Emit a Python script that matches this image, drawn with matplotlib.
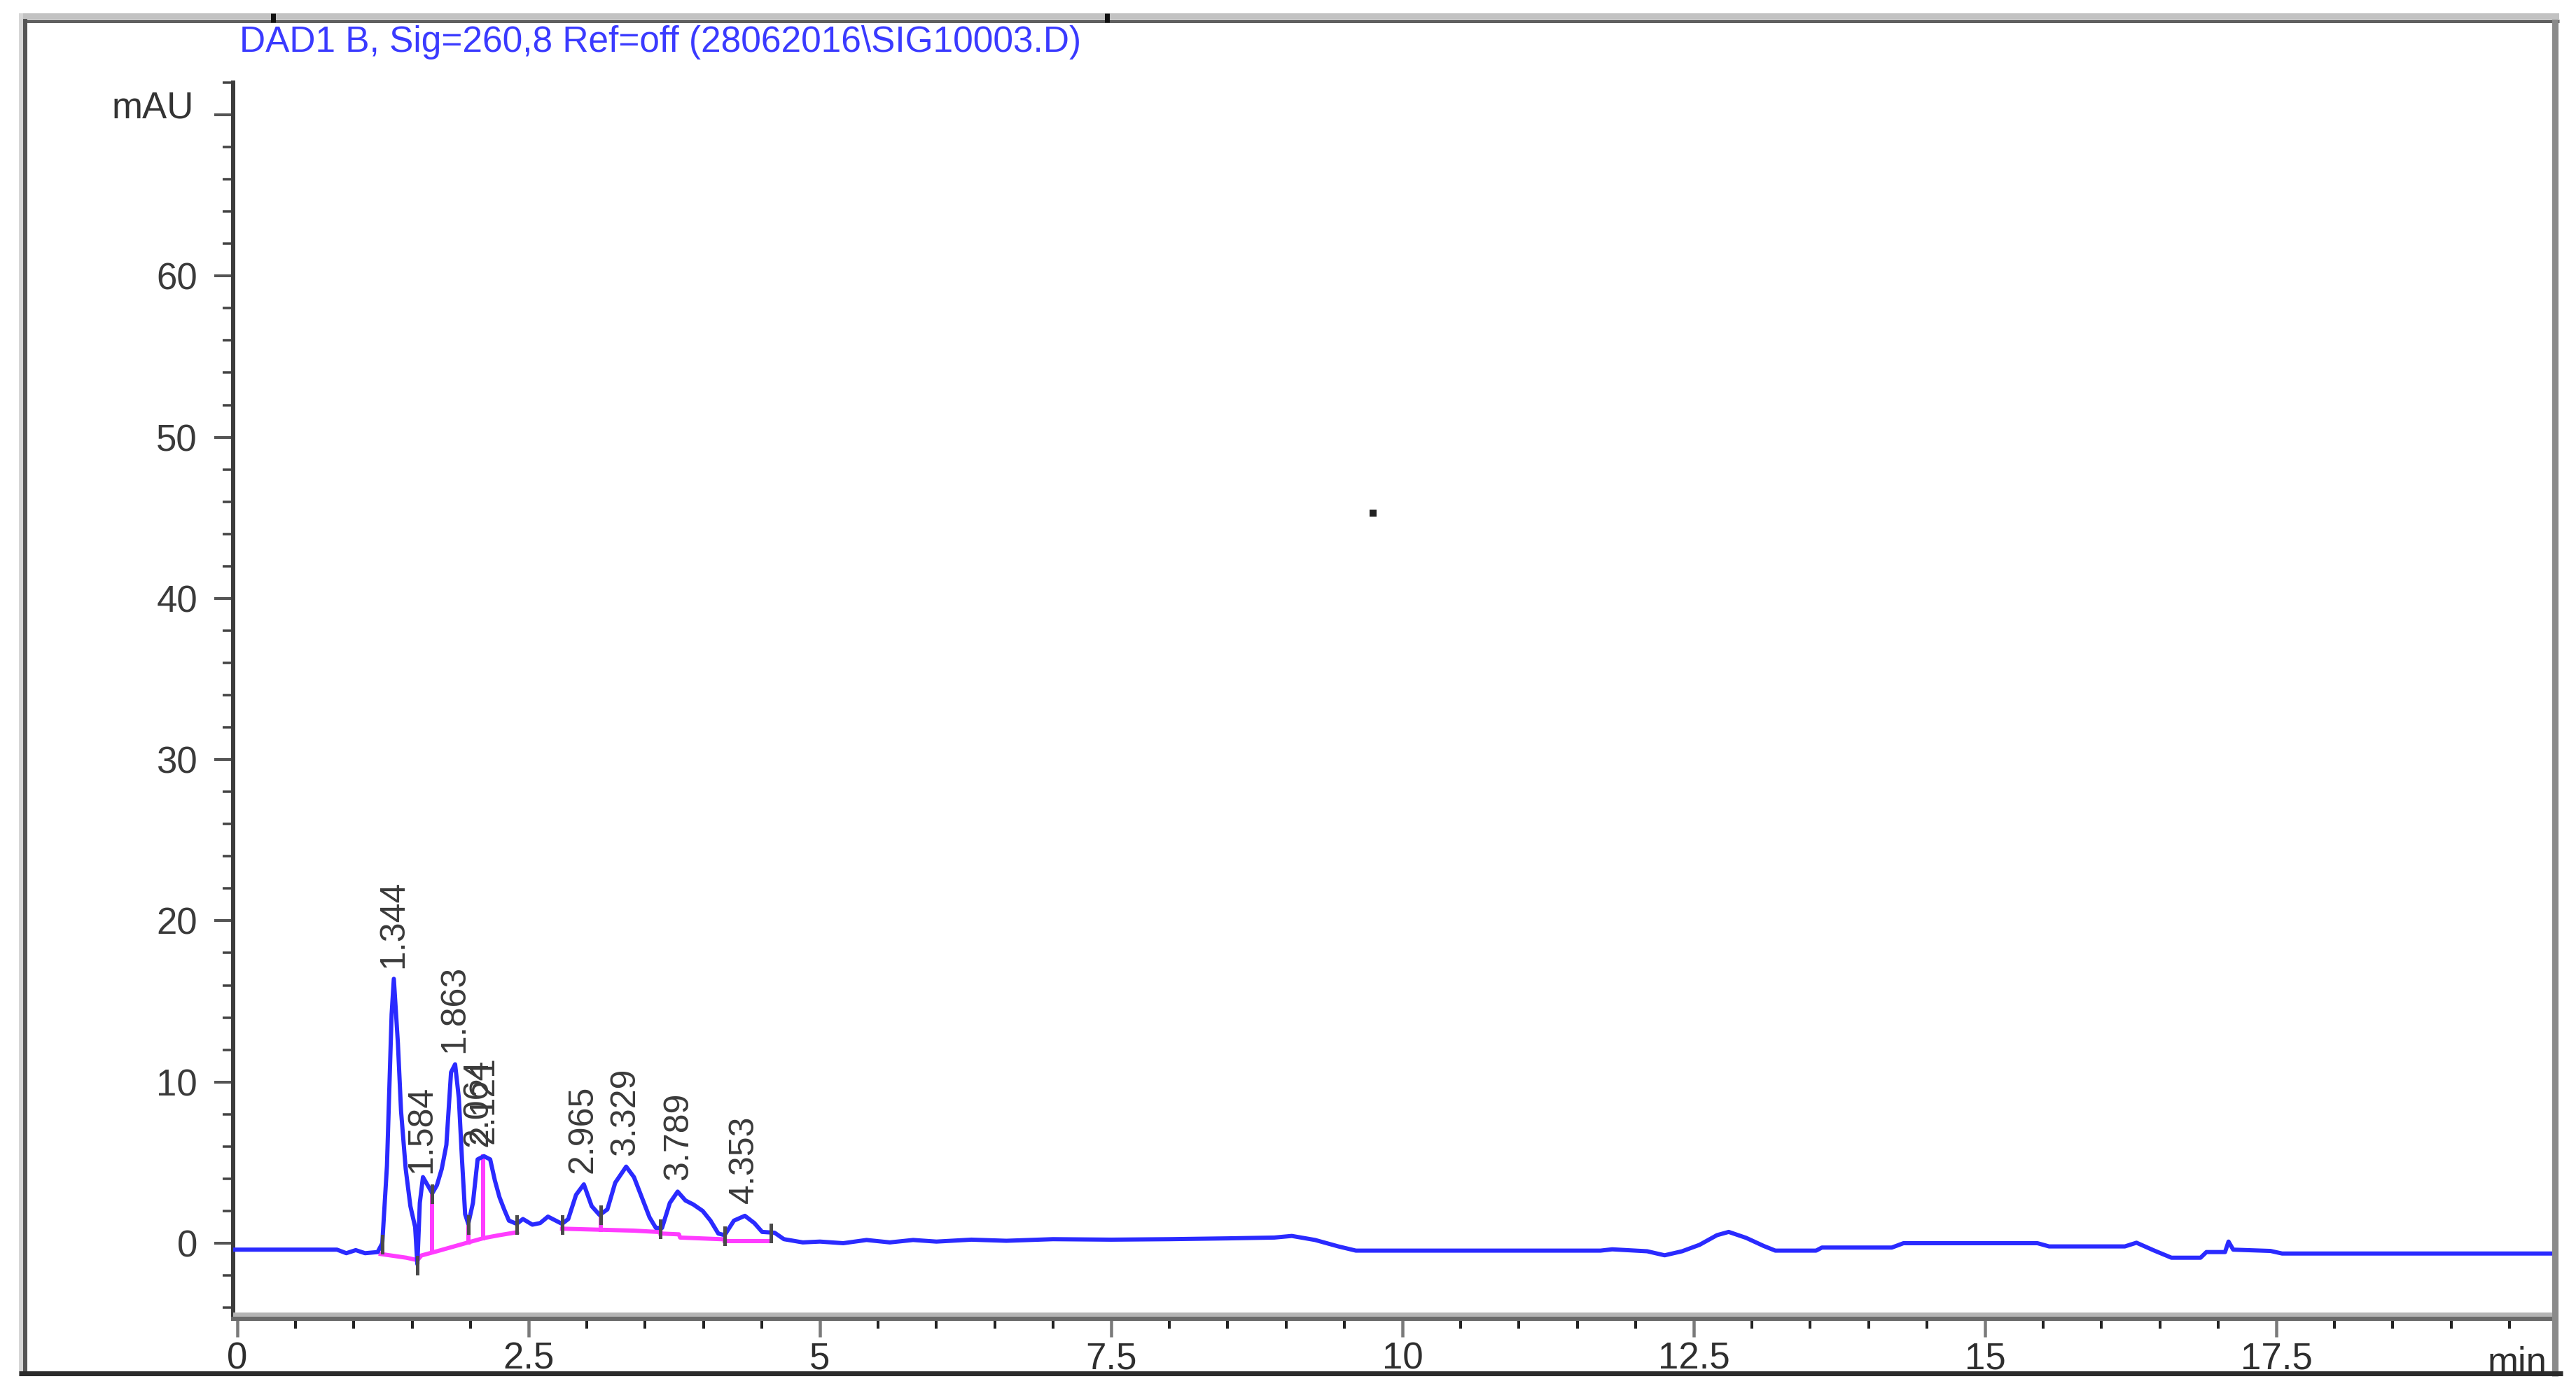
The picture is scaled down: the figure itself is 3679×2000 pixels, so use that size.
import numpy as np
import matplotlib
matplotlib.use("Agg")
import matplotlib.pyplot as plt
from matplotlib.lines import Line2D
from matplotlib.transforms import offset_copy

# ---------------- data ----------------
title_text = "DAD1 B, Sig=260,8 Ref=off (28062016\\SIG10003.D)"

time_min = [-0.036, 0.5, 0.855, 0.935, 1.016, 1.096, 1.204, 1.244, 1.284, 1.324,
            1.343, 1.378, 1.405, 1.445, 1.485, 1.526, 1.545, 1.566, 1.593, 1.633,
            1.673, 1.713, 1.754, 1.794, 1.834, 1.869, 1.901, 1.928, 1.955, 1.982,
            2.022, 2.062, 2.116, 2.170, 2.210, 2.250, 2.290, 2.331, 2.398, 2.451,
            2.532, 2.599, 2.666, 2.733, 2.787, 2.840, 2.907, 2.974, 3.041, 3.109,
            3.176, 3.243, 3.337, 3.404, 3.471, 3.538, 3.592, 3.645, 3.712, 3.779,
            3.846, 3.914, 3.994, 4.061, 4.128, 4.182, 4.262, 4.356, 4.437, 4.504,
            4.611, 4.691, 4.853, 5.0, 5.2, 5.4, 5.6, 5.8, 6.0, 6.3,
            6.6, 7.0, 7.5, 8.0, 8.5, 8.9, 9.05, 9.25, 9.45, 9.6,
            11.7, 11.8, 12.1, 12.25, 12.4, 12.55, 12.7, 12.8, 12.95, 13.1,
            13.2, 13.55, 13.6, 14.2, 14.3, 15.45, 15.55, 16.2, 16.3, 16.45,
            16.6, 16.85, 16.9, 17.06, 17.09, 17.13, 17.45, 17.55, 19.89]
signal_mau = [-0.40, -0.40, -0.40, -0.62, -0.43, -0.62, -0.55, 0.0, 4.8, 14.2,
              16.4, 12.4, 8.2, 4.6, 2.3, 1.0, -1.3, 2.5, 4.1, 3.6,
              3.1, 3.6, 4.6, 6.1, 10.6, 11.1, 9.0, 5.2, 1.8, 1.2,
              2.5, 5.2, 5.4, 5.2, 3.9, 2.85, 2.1, 1.4, 1.2, 1.5,
              1.15, 1.25, 1.65, 1.4, 1.2, 1.5, 3.0, 3.65, 2.3, 1.75,
              2.1, 3.75, 4.75, 4.1, 2.85, 1.6, 0.95, 0.95, 2.5, 3.2,
              2.65, 2.4, 2.0, 1.4, 0.6, 0.5, 1.4, 1.7, 1.25, 0.7,
              0.65, 0.25, 0.05, 0.1, 0.0, 0.2, 0.05, 0.2, 0.1, 0.22,
              0.15, 0.25, 0.22, 0.25, 0.3, 0.35, 0.45, 0.2, -0.2, -0.46,
              -0.46, -0.38, -0.5, -0.75, -0.5, -0.1, 0.5, 0.7, 0.33, -0.17,
              -0.46, -0.46, -0.27, -0.27, 0.0, 0.0, -0.2, -0.2, 0.03, -0.45,
              -0.9, -0.9, -0.55, -0.55, 0.1, -0.4, -0.48, -0.64, -0.64]

# integration baselines (pink)
base_a_t = [1.23, 1.45, 1.545]
base_a_y = [-0.67, -0.9, -1.05]
base_b_t = [1.545, 1.58, 1.713, 1.85, 1.982, 2.116, 2.25, 2.40]
base_b_y = [-1.05, -0.76, -0.5, -0.22, 0.05, 0.32, 0.5, 0.68]
base_c_t = [2.787, 3.40, 3.632]
base_c_y = [0.90, 0.78, 0.69]
base_d_t = [3.632, 3.79, 3.80, 4.182]
base_d_y = [0.60, 0.55, 0.35, 0.24]
base_e_t = [4.182, 4.58]
base_e_y = [0.15, 0.15]

drop_line_t = [1.673, 1.982, 2.108, 3.122]
event_marks_t = [1.244, 1.545, 1.673, 1.982, 2.398, 2.787, 3.122, 3.632, 4.182, 4.58]

peak_rt = [1.344, 1.584, 1.863, 2.064, 2.121, 2.965, 3.329, 3.789, 4.353]
peak_labels = ["1.344", "1.584", "1.863", "2.064", "2.121", "2.965", "3.329", "3.789", "4.353"]

stray_dot_t = [9.75]
stray_dot_y = [45.3]

x_major_ticks = [0, 2.5, 5, 7.5, 10, 12.5, 15, 17.5]
x_tick_labels = ["0", "2.5", "5", "7.5", "10", "12.5", "15", "17.5"]
y_major_ticks = [0, 10, 20, 30, 40, 50, 60, 70]
y_tick_labels = ["0", "10", "20", "30", "40", "50", "60", ""]

# ---------------- layout ----------------
plt.rcParams["font.family"] = ["Liberation Sans", "DejaVu Sans"]
W, H, DPI = 3680, 2000, 100
fig = plt.figure(figsize=(W / DPI, H / DPI), dpi=DPI)
fig.patch.set_facecolor("white")


def fx(px):
    return px / W


def fy(py):
    return 1 - py / H


def pt(px):
    return px * 72.0 / DPI


AX_L, AX_R, AX_T, AX_B = 333, 3648, 118, 1884
ax = fig.add_axes([fx(AX_L), fy(AX_B), fx(AX_R) - fx(AX_L), fy(AX_T) - fy(AX_B)])
ax.set_xlim(-0.036, 19.886)
ax.set_ylim(-4.69, 72.0)
ax.set_facecolor("none")

for s in ("top", "right"):
    ax.spines[s].set_visible(False)
ax.spines["left"].set_color("#3c3c3c")
ax.spines["left"].set_linewidth(pt(6))
ax.spines["bottom"].set_color("#6a6a6a")
ax.spines["bottom"].set_linewidth(pt(6))

ax.set_xticks(x_major_ticks)
ax.set_xticklabels(x_tick_labels)
ax.set_xticks(np.arange(0, 19.6, 0.5), minor=True)
ax.set_yticks(y_major_ticks)
ax.set_yticklabels(y_tick_labels)
ax.set_yticks(np.arange(-4, 73, 2), minor=True)

ax.tick_params(axis="x", which="major", direction="out", length=pt(26), width=pt(4.5),
               color="#7a7a7a", pad=pt(6), labelsize=38, labelcolor="#2e2e2e")
ax.tick_params(axis="x", which="minor", direction="out", length=pt(14), width=pt(4),
               color="#222222")
ax.tick_params(axis="y", which="major", direction="out", length=pt(27), width=pt(4),
               color="#555555", pad=pt(24), labelsize=38, labelcolor="#3a3a3a")
ax.tick_params(axis="y", which="minor", direction="out", length=pt(15), width=pt(3.5),
               color="#444444")

# light upper band of the x axis bar
ax.plot([0, 1], [0, 0], transform=offset_copy(ax.transAxes, fig=fig, y=6, units="dots"),
        color="#b4b4b4", lw=pt(6), clip_on=False, solid_capstyle="butt", zorder=3)

# signal
t = np.array(time_min)
s = np.array(signal_mau)
ax.plot(t, s, color="#2a2aff", lw=pt(6), zorder=4, solid_joinstyle="round")

# integration baselines
pink = "#ff3cff"
for bt, by in ((base_a_t, base_a_y), (base_b_t, base_b_y), (base_c_t, base_c_y),
               (base_d_t, base_d_y), (base_e_t, base_e_y)):
    ax.plot(bt, by, color=pink, lw=pt(6), zorder=3)

all_bt = np.concatenate([base_a_t, base_b_t, base_c_t, base_d_t, base_e_t])
all_by = np.concatenate([base_a_y, base_b_y, base_c_y, base_d_y, base_e_y])
order = np.argsort(all_bt, kind="stable")
for dt in drop_line_t:
    top = np.interp(dt, t, s)
    bot = np.interp(dt, all_bt[order], all_by[order])
    ax.plot([dt, dt], [bot, top], color=pink, lw=pt(6), zorder=3)

# event tick marks
for et in event_marks_t:
    yv = np.interp(et, t, s)
    ax.plot([et, et], [yv - 0.55, yv + 0.45], color="#4a4a4a", lw=pt(5), zorder=5)

# peak labels
for lab, rt in zip(peak_labels, peak_rt):
    yv = np.interp(rt, t, s)
    ax.annotate(lab, (rt, yv), xytext=(0, 13), textcoords="offset points",
                rotation=90, ha="center", va="bottom", fontsize=36, color="#3a3a3a",
                zorder=6)

ax.scatter(stray_dot_t, stray_dot_y, marker="s", s=pt(10) ** 2, color="#222222",
           linewidths=0, zorder=6)

# axis unit labels
ax.annotate("mAU", xy=(0, 70), xycoords=("axes fraction", "data"),
            xytext=(pt(277 - AX_L), pt(-4)), textcoords="offset points",
            ha="right", va="baseline", fontsize=38, color="#333333")
fig.text(fx(3637), fy(1962), "min", ha="right", va="baseline", fontsize=38,
         color="#2e2e2e")

# title
fig.text(fx(342), fy(74), title_text, ha="left", va="baseline", fontsize=37,
         color="#3a3aff")


# ---------------- outer frame ----------------
def fline(x0, y0, x1, y1, color, wpx, z=10):
    fig.add_artist(Line2D([fx(x0), fx(x1)], [fy(y0), fy(y1)], transform=fig.transFigure,
                          color=color, lw=pt(wpx), solid_capstyle="butt", zorder=z))


fline(28, 23, 3655, 23, "#c2c2c2", 8)
fline(28, 29.5, 3655, 29.5, "#606060", 5)
fline(30, 19, 30, 1966, "#d6d6d6", 6)
fline(36, 27, 36, 1966, "#555555", 6)
fline(3649, 27, 3649, 1966, "#8a8a8a", 9)
fline(27, 1962, 3660, 1962, "#2b2b2b", 7)
fline(390, 19, 390, 32, "#111111", 7)
fline(1581, 19, 1581, 32, "#111111", 7)

fig.savefig("out.png", dpi=DPI, facecolor="white")
